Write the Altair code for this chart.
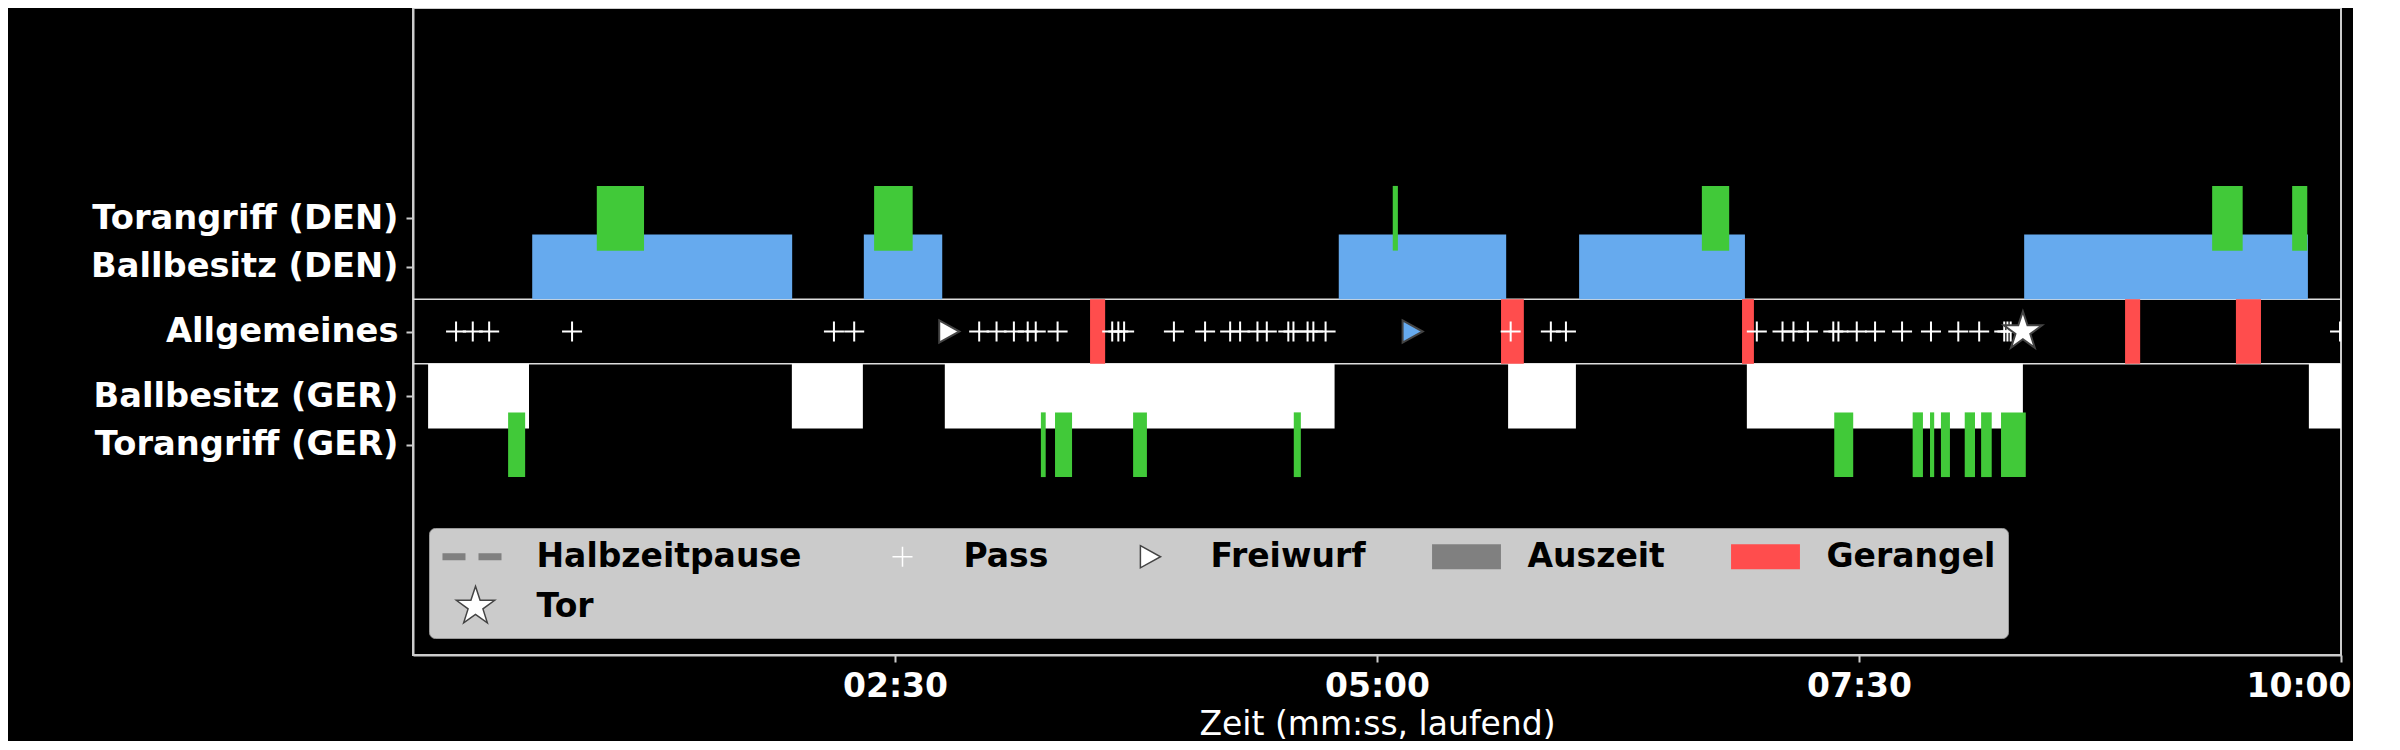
import math
import altair as alt
import pandas as pd

# ---------------- data (seconds since start) ----------------
DEN_BALL_START = [37.1, 140.3, 288.1, 362.9, 501.4]
DEN_BALL_END = [118.0, 164.7, 340.2, 414.5, 589.7]
GER_BALL_START = [4.7, 117.9, 165.5, 340.8, 415.1, 590.0]
GER_BALL_END = [36.1, 140.0, 286.8, 361.9, 501.0, 600.0]
DEN_ATT_START = [57.2, 143.5, 304.9, 401.1, 559.9, 584.8]
DEN_ATT_END = [71.9, 155.5, 306.5, 409.6, 569.4, 589.5]
GER_ATT_START = [29.6, 195.4, 199.8, 224.1, 274.1, 442.3, 466.7, 472.1, 475.5, 482.9, 488.0, 494.2]
GER_ATT_END = [34.9, 196.9, 205.1, 228.4, 276.3, 448.2, 469.9, 473.4, 478.3, 486.1, 491.3, 501.9]
GERANGEL_START = [210.7, 338.6, 413.6, 532.8, 567.3]
GERANGEL_END = [215.4, 345.7, 417.3, 537.5, 575.1]
PASS_TIMES = [13.4, 18.6, 23.7, 49.5, 131.0, 137.3, 176.2, 181.6, 187.0, 191.3, 193.8,
              200.6, 217.6, 219.5, 221.3, 236.8, 246.5, 254.3, 257.4, 262.8, 265.7,
              272.4, 274.0, 278.4, 280.2, 284.0, 341.6, 354.1, 358.8, 418.2, 426.2,
              429.6, 434.1, 442.0, 443.6, 449.3, 455.0, 463.4, 472.4, 480.9, 487.4,
              495.2, 496.2, 497.2, 599.7]
FREIWURF_GER = [166.6]
FREIWURF_DEN = [310.8]
TOR_TIMES = [501.0]

ROW_NAMES = ["Torangriff (DEN)", "Ballbesitz (DEN)", "Allgemeines",
             "Ballbesitz (GER)", "Torangriff (GER)"]
ROW_POS = [1.75, 1.0, 0.0, -1.0, -1.75]
SEPARATORS = [0.5, -0.5]
X_TICKS = [150, 300, 450, 600]
X_TICK_LABELS = ["02:30", "05:00", "07:30", "10:00"]
LEGEND_KINDS = ["Halbzeitpause", "Pass", "Freiwurf", "Auszeit", "Gerangel", "Tor"]

# ---------------- styles ----------------
BLUE = "#66aaee"
GREEN = "#41c939"
RED = "#ff4d4d"
FONT = "DejaVu Sans"

BOUND = "M-2.65,0M2.65,0"
P_DASH = BOUND + "M-2.54,-0.27H-0.77V0.27H-2.54Z M0.23,-0.27H2V0.27H0.23Z"
P_PLUS = BOUND + "M-0.77,0H0.77M0,-0.77V0.77"
P_TRI = BOUND + "M-0.7,-0.85L0.85,0L-0.7,0.85Z"
P_RECT = "M-2.65,-0.96H2.65V0.96H-2.65Z"
_pts = []
for i in range(10):
    r = 1.55 if i % 2 == 0 else 0.6
    a = -math.pi / 2 + i * math.pi / 5
    _pts.append(f"{r*math.cos(a):.3f},{r*math.sin(a):.3f}")
P_STAR = BOUND + "M" + "L".join(_pts) + "Z"

SHAPES = [P_DASH, P_PLUS, P_TRI, P_RECT, P_RECT, P_STAR]
FILLS = ["#808080", "transparent", "#ffffff", "#808080", RED, "#ffffff"]
STROKES = ["transparent", "#ffffff", "#444444", "transparent", "transparent", "#444444"]


def label_expr(values, labels):
    expr = "''"
    for v, l in reversed(list(zip(values, labels))):
        expr = f"datum.value == {v} ? '{l}' : ({expr})"
    return expr


XSCALE = alt.Scale(domain=[0, 600], nice=False, zero=False)
YSCALE = alt.Scale(domain=[-5, 5], nice=False, zero=False)
XAXIS = alt.Axis(values=X_TICKS, labelExpr=label_expr(X_TICKS, X_TICK_LABELS),
                 title="Zeit (mm:ss, laufend)", grid=False, labelFlush=True,
                 labelFlushOffset=10,
                 labelOverlap=False, labelFont=FONT, labelFontSize=33,
                 labelFontWeight="bold", labelColor="white", labelPadding=8,
                 tickSize=7, tickWidth=2, tickColor="#cccccc", domainColor="#cccccc",
                 domainWidth=2, titleFont=FONT, titleFontSize=33,
                 titleFontWeight="normal", titleColor="white", titlePadding=5)
YAXIS = alt.Axis(values=ROW_POS, labelExpr=label_expr(ROW_POS, ROW_NAMES), title=None,
                 grid=False, labelOverlap=False, labelFont=FONT, labelFontSize=33.7,
                 labelFontWeight="bold", labelColor="white", labelPadding=8,
                 labelLimit=600, tickSize=7, tickWidth=2, tickColor="#cccccc",
                 domainColor="#cccccc", domainWidth=2, labelBaseline="middle")

LEG = alt.Legend(title=None, orient="none", legendX=16, legendY=520,
                 direction="horizontal", columns=5, fillColor="#cbcbcb",
                 strokeColor="#999999", cornerRadius=6, padding=12,
                 symbolSize=676, symbolStrokeWidth=1.5, symbolOpacity=1,
                 symbolOffset=18,
                 labelFont=FONT, labelFontSize=33, labelFontWeight="bold",
                 labelColor="black", labelOffset=44.5, labelLimit=600,
                 columnPadding=63, rowPadding=9)
FILL_SCALE = alt.Scale(domain=LEGEND_KINDS, range=FILLS)
STROKE_SCALE = alt.Scale(domain=LEGEND_KINDS, range=STROKES)
SHAPE_SCALE = alt.Scale(domain=LEGEND_KINDS, range=SHAPES)


def bars(starts, ends, lo, hi, kind):
    return pd.DataFrame({"start": starts, "end": ends, "lo": [lo] * len(starts),
                         "hi": [hi] * len(starts), "kind": [kind] * len(starts)})


def rect_layer(df, color):
    return alt.Chart(df).mark_rect(color=color, strokeWidth=0).encode(
        x=alt.X("start:Q", scale=XSCALE, axis=XAXIS), x2="end:Q",
        y=alt.Y("lo:Q", scale=YSCALE, axis=YAXIS), y2="hi:Q")


sep_df = pd.DataFrame({"y": SEPARATORS})
rules = alt.Chart(sep_df).mark_rule(color="#dddddd", strokeWidth=1.5).encode(
    y=alt.Y("y:Q", scale=YSCALE, axis=YAXIS))

den_ball = rect_layer(bars(DEN_BALL_START, DEN_BALL_END, 0.5, 1.5, "Ballbesitz (DEN)"), BLUE)
ger_ball = rect_layer(bars(GER_BALL_START, GER_BALL_END, -1.5, -0.5, "Ballbesitz (GER)"), "#ffffff")
den_att = rect_layer(bars(DEN_ATT_START, DEN_ATT_END, 1.25, 2.25, "Torangriff (DEN)"), GREEN)
ger_att = rect_layer(bars(GER_ATT_START, GER_ATT_END, -2.25, -1.25, "Torangriff (GER)"), GREEN)

ger_df = bars(GERANGEL_START, GERANGEL_END, -0.5, 0.5, "Gerangel")
gerangel = alt.Chart(ger_df).mark_rect(strokeWidth=0).encode(
    x=alt.X("start:Q", scale=XSCALE, axis=XAXIS), x2="end:Q",
    y=alt.Y("lo:Q", scale=YSCALE, axis=YAXIS), y2="hi:Q",
    fill=alt.Fill("kind:N", scale=FILL_SCALE, legend=LEG))

ev_t = PASS_TIMES + FREIWURF_GER + TOR_TIMES
ev_kind = ["Pass"] * len(PASS_TIMES) + ["Freiwurf"] * len(FREIWURF_GER) + ["Tor"] * len(TOR_TIMES)
ev_df = pd.DataFrame({"t": ev_t, "y": [0.0] * len(ev_t), "kind": ev_kind})
points = alt.Chart(ev_df).mark_point(filled=True, opacity=1, strokeWidth=2, clip=True).encode(
    x=alt.X("t:Q", scale=XSCALE, axis=XAXIS),
    y=alt.Y("y:Q", scale=YSCALE, axis=YAXIS),
    shape=alt.Shape("kind:N", scale=SHAPE_SCALE, legend=LEG),
    fill=alt.Fill("kind:N", scale=FILL_SCALE, legend=LEG),
    stroke=alt.Stroke("kind:N", scale=STROKE_SCALE, legend=LEG),
    size=alt.value(676))

fw_df = pd.DataFrame({"t": FREIWURF_DEN, "y": [0.0] * len(FREIWURF_DEN)})
fw_den = alt.Chart(fw_df).mark_point(filled=True, opacity=1, strokeWidth=2).encode(
    x=alt.X("t:Q", scale=XSCALE, axis=XAXIS),
    y=alt.Y("y:Q", scale=YSCALE, axis=YAXIS),
    shape=alt.value(P_TRI), fill=alt.value(BLUE), stroke=alt.value("#444444"),
    size=alt.value(676))

chart = alt.layer(rules, den_ball, ger_ball, den_att, ger_att, gerangel, points, fw_den).properties(
    width=1928, height=647,
    autosize=alt.AutoSizeParams(type="none"),
    padding={"left": 405, "top": 0, "right": 12, "bottom": 86},
    background="black",
).configure_view(stroke="#cccccc", strokeWidth=2, fill="black")

chart.save("out.html", embed_options={"renderer": "svg", "actions": False})
